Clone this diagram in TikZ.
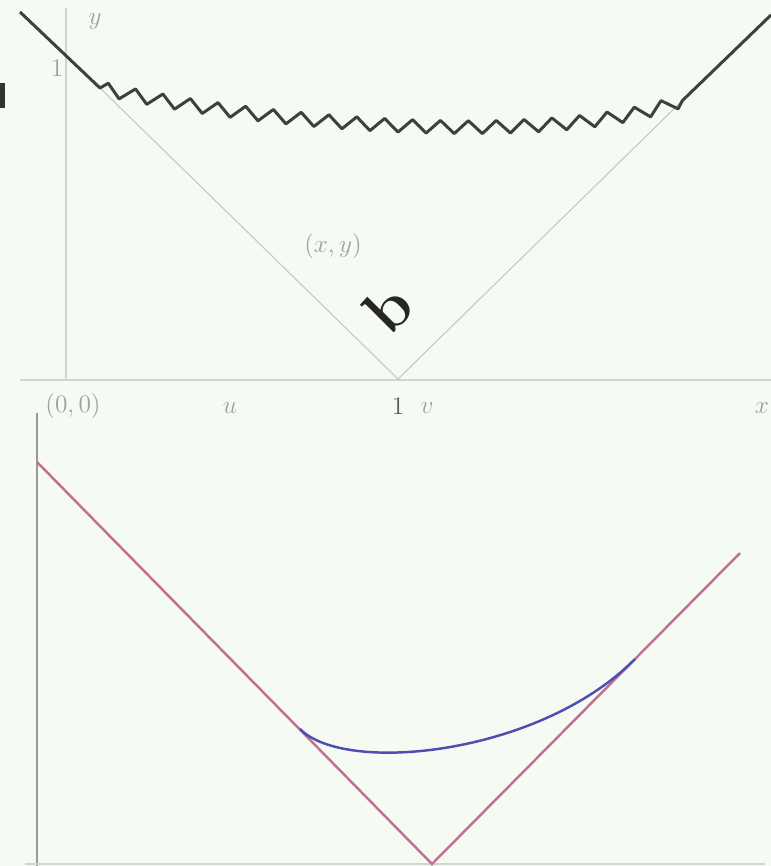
\documentclass[tikz,border=0pt]{standalone}
\usepackage{amsmath}
\usepackage{xcolor}
\usepackage{tikz}
\usetikzlibrary{decorations.pathmorphing}

\definecolor{bgpaper}{RGB}{245,250,243}
\definecolor{axisgray}{RGB}{208,213,206}
\definecolor{vgray}{RGB}{196,200,194}
\definecolor{penblack}{RGB}{62,64,62}
\definecolor{labelgray}{RGB}{158,160,158}
\definecolor{kinkpink}{RGB}{196,112,150}
\definecolor{smoothblue}{RGB}{78,78,178}

\begin{document}
\begin{tikzpicture}[
  x=0.02cm, y=-0.02cm,
  axis/.style={draw=axisgray, line width=0.9pt},
  cone/.style={draw=vgray, line width=0.6pt},
  path/.style={draw=penblack, line width=1.7pt, line join=round},
  kink/.style={draw=kinkpink, line width=1.4pt},
  smooth/.style={draw=smoothblue, line width=1.4pt},
  lbl/.style={font=\Large, text=labelgray, inner sep=0pt}
]

% --- page and background ---
\fill[bgpaper] (0,0) rectangle (771,866);
\useasboundingbox (0,0) rectangle (771,866);

% --- upper plot: axes ---
\coordinate (yaxtop) at (66,8);
\coordinate (yaxbot) at (66,380);
\coordinate (xaxleft) at (20,380);
\coordinate (xaxright) at (771,380);
\draw[axis] (yaxtop) -- (yaxbot);
\draw[axis] (xaxleft) -- (xaxright);

% --- upper plot: light cone from (1,0) ---
\coordinate (apex) at (398,379);
\coordinate (hitl) at (100,88);
\coordinate (hitr) at (683,100);
\draw[cone] (hitl) -- (apex) -- (hitr);

% --- upper plot: rough path ---
\coordinate (start) at (20,12);
\coordinate (stop) at (771,15);
\draw[path] (start) -- (hitl)
  decorate[decoration={zigzag, segment length=0.56cm, amplitude=0.13cm}]
  {.. controls (260,125) and (560,148) .. (hitr)} -- (stop);

% --- upper plot: labels ---
\node[lbl] (ylab) at (95,22) {$y$};
\node[lbl] (onetop) at (57,68) {$1$};
\node[lbl] (pt) at (333,246) {$(x,y)$};
\node[lbl] (orig) at (73,406) {$(0,0)$};
\node[lbl] (ulab) at (230,408) {$u$};
\node[lbl, text=black!65] (onebot) at (398,406) {$1$};
\node[lbl] (vlab) at (427,408) {$v$};
\node[lbl] (xlab) at (762,408) {$x$};
\node[font=\fontsize{36}{40}\selectfont\bfseries, rotate=45, text=black!85, inner sep=0pt] (mark) at (388,308) {b};
\fill[black!80] (0,83) rectangle (5,108);

% --- lower plot: axes ---
\coordinate (ybtop) at (37,413);
\coordinate (ybbot) at (37,866);
\coordinate (xbleft) at (25,864);
\coordinate (xbright) at (765,864);
\draw[draw=black!40, line width=1.4pt] (ybtop) -- (ybbot);
\draw[axis] (xbleft) -- (xbright);

% --- lower plot: kink and its smoothing ---
\coordinate (kl) at (37,462);
\coordinate (kbot) at (432,864);
\coordinate (kr) at (740,553);
\coordinate (tl) at (300,729);
\coordinate (tr) at (635,659);
\draw[kink] (kl) -- (kbot) -- (kr);
\draw[smooth] (tl) .. controls (345,775) and (540,755) .. (tr);

\end{tikzpicture}
\end{document}
